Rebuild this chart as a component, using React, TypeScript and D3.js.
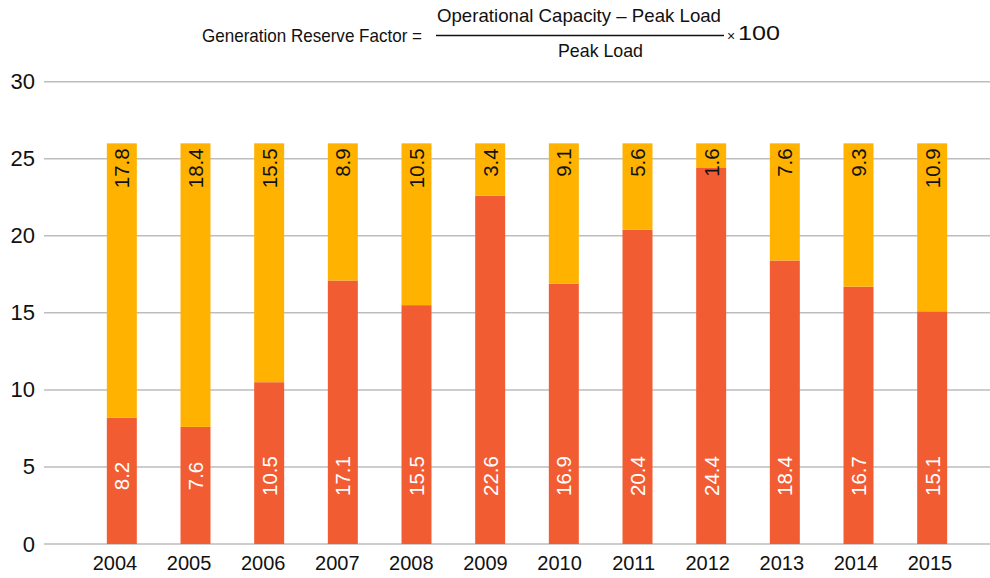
import React from "react";
import * as d3 from "d3";

const years = ["2004","2005","2006","2007","2008","2009","2010","2011","2012","2013","2014","2015"];
const operational = [8.2, 7.6, 10.5, 17.1, 15.5, 22.6, 16.9, 20.4, 24.4, 18.4, 16.7, 15.1];
const reserve = [17.8, 18.4, 15.5, 8.9, 10.5, 3.4, 9.1, 5.6, 1.6, 7.6, 9.3, 10.9];
const yTicks = [0, 5, 10, 15, 20, 25, 30];
const seriesKeys = ["operational", "reserve"];
const seriesColors = ["#F25C33", "#FFB300"];

const W = 990;
const H = 578;
const FONT = "'Liberation Sans', Arial, Helvetica, sans-serif";

export default function App() {
  const x = d3.scaleBand<string>().domain(years).range([85, 969]).paddingInner(0.593).paddingOuter(0.2965);
  const xLabel = d3.scalePoint<string>().domain(years).range([115, 930]);
  const y = d3.scaleLinear().domain([0, 30]).range([544, 81.7]);
  const rows = years.map((yr, i) => ({ year: yr, operational: operational[i], reserve: reserve[i] }));
  const stacked = d3.stack<any>().keys(seriesKeys)(rows);
  const bw = x.bandwidth();
  const lblFs = 20.5;

  return (
    <svg width={W} height={H} style={{ position: "absolute", left: 0, top: 0, background: "#fff" }} fontFamily={FONT}>
      {/* title formula */}
      <g fill="#111">
        <text x={202} y={42} fontSize={18.5} textLength={220} lengthAdjust="spacingAndGlyphs">Generation Reserve Factor =</text>
        <text x={437} y={22} fontSize={18.5} textLength={284} lengthAdjust="spacingAndGlyphs">Operational Capacity – Peak Load</text>
        <line x1={436} x2={724} y1={35.5} y2={35.5} stroke="#111" strokeWidth={1.4} />
        <text x={558} y={57} fontSize={18.5} textLength={85} lengthAdjust="spacingAndGlyphs">Peak Load</text>
        <text x={727} y={41} fontSize={14}>×</text>
        <text x={738} y={40} fontSize={19.5} textLength={42} lengthAdjust="spacingAndGlyphs">100</text>
      </g>
      {/* gridlines */}
      {yTicks.map((t) => (
        <g key={t}>
          <line x1={44} x2={990} y1={y(t)} y2={y(t)} stroke="#BDBDBD" strokeWidth={1.5} />
          <text x={35} y={y(t) + 7.5} textAnchor="end" fontSize={22} fill="#111">{t}</text>
        </g>
      ))}
      {/* bars */}
      {stacked.map((s, si) => (
        <g key={s.key} fill={seriesColors[si]}>
          {s.map((d, i) => (
            <rect key={i} x={x(years[i])} y={y(d[1])} width={bw} height={y(d[0]) - y(d[1])} />
          ))}
        </g>
      ))}
      {/* labels */}
      {years.map((yr, i) => {
        const cx = (x(yr) as number) + bw / 2;
        const topY = y(operational[i] + reserve[i]) + 5;
        const botY = y(0) - 68;
        return (
          <g key={yr} fontSize={lblFs}>
            <text transform={`translate(${cx + 0.36 * lblFs},${topY}) rotate(-90)`} textAnchor="end" fill="#111">{reserve[i].toFixed(1)}</text>
            <text transform={`translate(${cx + 0.36 * lblFs},${botY}) rotate(-90)`} textAnchor="middle" fill="#fff">{operational[i].toFixed(1)}</text>
          </g>
        );
      })}
      {/* x axis labels */}
      {years.map((yr) => (
        <text key={yr} x={xLabel(yr)} y={570} textAnchor="middle" fontSize={20} fill="#111">{yr}</text>
      ))}
    </svg>
  );
}
